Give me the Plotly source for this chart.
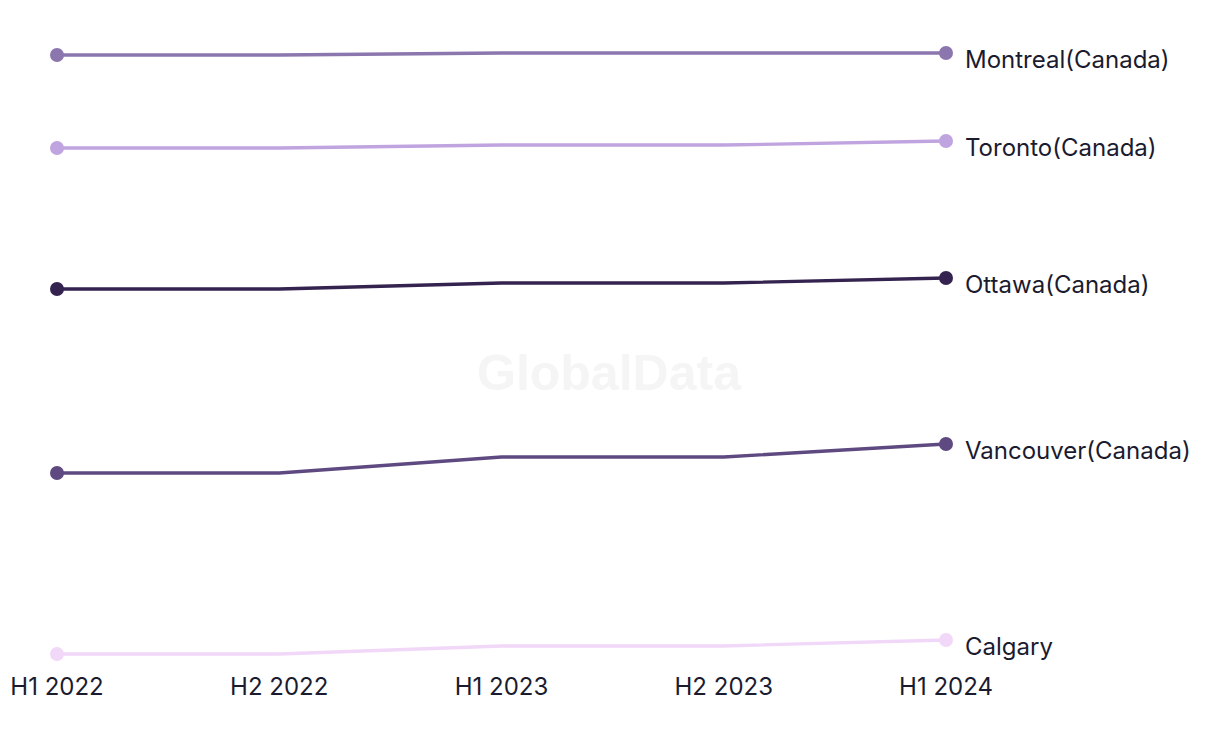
import plotly.graph_objects as go

periods = ["H1 2022", "H2 2022", "H1 2023", "H2 2023", "H1 2024"]
cities = ["Montreal(Canada)", "Toronto(Canada)", "Ottawa(Canada)", "Vancouver(Canada)", "Calgary"]
montreal = [64.5, 64.5, 64.7, 64.7, 64.7]
toronto = [55.2, 55.2, 55.5, 55.5, 55.9]
ottawa = [41.1, 41.1, 41.7, 41.7, 42.2]
vancouver = [22.7, 22.7, 24.3, 24.3, 25.6]
calgary = [4.6, 4.6, 5.4, 5.4, 6.0]
colors = ["#8c76ae", "#c0a4e0", "#35234f", "#5e4a80", "#f1d8f8"]

series = [montreal, toronto, ottawa, vancouver, calgary]
xs = list(range(len(periods)))
FONT = "Inter, Liberation Sans, Arial, sans-serif"
TXT = "#1b1b2f"

fig = go.Figure()
for name, vals, col in zip(cities, series, colors):
    fig.add_trace(go.Scatter(
        x=xs, y=vals, mode="lines", name=name,
        line=dict(color=col, width=3.3),
        cliponaxis=False, showlegend=False,
    ))
    fig.add_trace(go.Scatter(
        x=[xs[0], xs[-1]], y=[vals[0], vals[-1]], mode="markers",
        marker=dict(color=col, size=14, opacity=1, line=dict(width=0)),
        cliponaxis=False, showlegend=False,
    ))
    fig.add_annotation(
        x=xs[-1], y=vals[-1], xref="x", yref="y", text=name,
        showarrow=False, xanchor="left", yanchor="middle",
        xshift=17, yshift=-6,
        font=dict(size=24, color=TXT, family=FONT),
    )

fig.add_annotation(
    x=0.622, y=0.463, xref="paper", yref="paper", text="<b>GlobalData</b>",
    showarrow=False, font=dict(size=50, color="#f5f5f5", family="Liberation Sans, Arial, sans-serif"),
)

fig.update_layout(
    width=1220, height=744,
    margin=dict(l=49, r=282, t=32, b=92),
    paper_bgcolor="white", plot_bgcolor="white",
    font=dict(family=FONT, size=24, color=TXT),
    xaxis=dict(range=[0, 4], tickvals=xs, ticktext=periods, showgrid=False, zeroline=False,
               showline=False, ticks="outside", ticklen=5, tickcolor="rgba(0,0,0,0)",
               automargin=False,
               tickfont=dict(size=24, color=TXT, family=FONT)),
    yaxis=dict(range=[4, 66], showgrid=False, zeroline=False, showline=False, showticklabels=False,
               automargin=False),
)

fig.write_html("out.html")
